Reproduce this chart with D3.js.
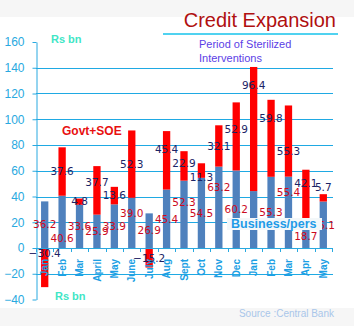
<!DOCTYPE html>
<html>
<head>
<meta charset="utf-8">
<script src="https://cdn.jsdelivr.net/npm/d3@7"></script>
<style>
  body { margin: 0; background: #fff; }
  svg { display: block; }
</style>
</head>
<body>
<div id="chart"></div>
<script>
// monthly credit expansion, Rs bn
const months = ["Jan", "Feb", "Mar", "April", "May", "June", "July", "Aug", "Sept", "Oct", "Nov", "Dec", "Jan", "Feb", "Mar", "Apr", "May"];
const business = [36.2, 40.6, 33.6, 25.9, 33.9, 39.0, 26.9, 45.4, 52.3, 54.5, 63.2, 60.2, 44.2, 55.3, 55.4, 18.7, 36.1];
const govt = [-30.4, 37.6, 4.8, 37.7, 13.6, 52.3, -15.2, 45.4, 22.9, 11.3, 32.1, 52.9, 96.4, 59.8, 55.3, 42.1, 5.7];
const yTicks = [-40, -20, 0, 20, 40, 60, 80, 100, 120, 140, 160];

// label nudges (px) - labels were hand placed in the original
const govtNudge = [-14, 0, 0, -8, 0, 0, 0, -11, -3, 7, 0, -7, -44, -20, 10, -14, -11];
const bizNudge = [0, 16, 0, 0, 0, -10, 0, 0, -12, 0, -20, 0, 6, 0, -20, 0, 0];

const W = 354, H = 326;
const plotLeft = 36, plotRight = 332, plotTop = 42, plotBottom = 299.5;
const axisBlue = "#29a9e0";
const gridBlue = "#1fa9e3";

const svg = d3.select("#chart").append("svg")
  .attr("width", W)
  .attr("height", H);

// grey bands top and bottom
svg.append("rect").attr("x", 0).attr("y", 0).attr("width", W).attr("height", 17).attr("fill", "#f6f6f6");
svg.append("rect").attr("x", 0).attr("y", 308).attr("width", W).attr("height", H - 308).attr("fill", "#f6f6f6");

const x = d3.scaleBand()
  .domain(d3.range(months.length))
  .range([plotLeft, plotRight])
  .padding(0);

const y = d3.scaleLinear()
  .domain([-40, 160])
  .range([plotBottom, plotTop]);

const barW = x.bandwidth() * 0.42;

// gridlines (not at 0, -40, 160)
svg.append("g")
  .selectAll("line")
  .data(yTicks.filter(t => t !== 0 && t !== -40 && t !== 160))
  .enter()
  .append("line")
  .attr("x1", plotLeft)
  .attr("x2", plotRight + 1)
  .attr("y1", d => Math.round(y(d)) + 0.5)
  .attr("y2", d => Math.round(y(d)) + 0.5)
  .attr("stroke", gridBlue)
  .attr("stroke-width", 1);

// y axis
const yAxis = svg.append("g")
  .attr("transform", `translate(${plotLeft + 0.5},0)`)
  .call(d3.axisLeft(y).tickValues(yTicks).tickSize(4).tickPadding(8).tickSizeOuter(0));
yAxis.select(".domain").attr("stroke", axisBlue);
yAxis.selectAll(".tick line").attr("stroke", axisBlue);
yAxis.selectAll("text")
  .attr("fill", axisBlue)
  .style("font-family", "'Liberation Sans', Arial, sans-serif")
  .style("font-size", "12px");

// bars
const rows = months.map((m, i) => ({ i, m, biz: business[i], gov: govt[i] }));

const bars = svg.append("g");
bars.selectAll(".biz")
  .data(rows)
  .enter()
  .append("rect")
  .attr("class", "biz")
  .attr("x", d => x(d.i) + (x.bandwidth() - barW) / 2)
  .attr("width", barW)
  .attr("y", d => y(d.biz))
  .attr("height", d => y(0) - y(d.biz))
  .attr("fill", "#4f81bd");

bars.selectAll(".gov")
  .data(rows)
  .enter()
  .append("rect")
  .attr("class", "gov")
  .attr("x", d => x(d.i) + (x.bandwidth() - barW) / 2)
  .attr("width", barW)
  .attr("y", d => d.gov >= 0 ? y(d.biz + d.gov) : y(0))
  .attr("height", d => Math.abs(y(0) - y(d.gov)))
  .attr("fill", "#ff0000");

// x axis line and ticks
const xAxis = svg.append("g");
xAxis.append("line")
  .attr("x1", plotLeft).attr("x2", plotRight + 1)
  .attr("y1", Math.round(y(0)) + 0.5).attr("y2", Math.round(y(0)) + 0.5)
  .attr("stroke", axisBlue);
xAxis.selectAll(".xt")
  .data(d3.range(months.length + 1))
  .enter()
  .append("line")
  .attr("x1", d => Math.round(plotLeft + d * x.step()) + 0.5)
  .attr("x2", d => Math.round(plotLeft + d * x.step()) + 0.5)
  .attr("y1", Math.round(y(0)))
  .attr("y2", Math.round(y(0)) + 4)
  .attr("stroke", axisBlue);

xAxis.selectAll(".xl")
  .data(rows)
  .enter()
  .append("text")
  .attr("transform", d => `translate(${x(d.i) + x.bandwidth() / 2},${y(0) + 11}) rotate(-90)`)
  .attr("text-anchor", "end")
  .attr("dy", "0.36em")
  .attr("fill", "#1c9fe4")
  .style("font-family", "'Liberation Sans', Arial, sans-serif")
  .style("font-weight", "bold")
  .style("font-size", "10px")
  .text(d => d.m);

// data labels
const fmt = d3.format(".1f");
const labelFont = "'DejaVu Sans', Verdana, sans-serif";

svg.append("g").selectAll("text")
  .data(rows)
  .enter()
  .append("text")
  .attr("x", d => x(d.i) + x.bandwidth() / 2)
  .attr("y", d => y(d.biz / 2) + bizNudge[d.i])
  .attr("dy", "0.36em")
  .attr("text-anchor", "middle")
  .attr("fill", "#cc0a1e")
  .style("font-family", labelFont)
  .style("font-size", "10.5px")
  .text(d => fmt(d.biz));

svg.append("g").selectAll("text")
  .data(rows)
  .enter()
  .append("text")
  .attr("x", d => x(d.i) + x.bandwidth() / 2)
  .attr("y", d => (d.gov >= 0 ? y(d.biz + d.gov / 2) : y(d.gov / 2)) + govtNudge[d.i])
  .attr("dy", "0.36em")
  .attr("text-anchor", "middle")
  .attr("fill", "#1b2466")
  .style("font-family", labelFont)
  .style("font-size", "10.5px")
  .text(d => fmt(d.gov));

// title
svg.append("text")
  .attr("x", 336)
  .attr("y", 27)
  .attr("text-anchor", "end")
  .attr("fill", "#b01010")
  .style("font-family", "'Liberation Sans', Arial, sans-serif")
  .style("font-size", "20px")
  .text("Credit Expansion");

svg.append("line")
  .attr("x1", 163).attr("x2", 338)
  .attr("y1", 34).attr("y2", 34)
  .attr("stroke", "#50d2f0")
  .attr("stroke-width", 2);

// annotations
const note = svg.append("text")
  .attr("fill", "#5b3ee6")
  .style("font-family", "'Liberation Sans', Arial, sans-serif")
  .style("font-size", "11px");
note.append("tspan").attr("x", 199).attr("y", 47.5).text("Period of Sterilized");
note.append("tspan").attr("x", 199).attr("y", 61.5).text("Interventions");

svg.append("text")
  .attr("x", 51).attr("y", 43)
  .attr("fill", "#3fe6c6")
  .style("font-family", "'Liberation Sans', Arial, sans-serif")
  .style("font-weight", "bold")
  .style("font-size", "11px")
  .text("Rs bn");

svg.append("text")
  .attr("x", 55).attr("y", 300)
  .attr("fill", "#3fe6c6")
  .style("font-family", "'Liberation Sans', Arial, sans-serif")
  .style("font-weight", "bold")
  .style("font-size", "11px")
  .text("Rs bn");

svg.append("text")
  .attr("x", 62).attr("y", 135)
  .attr("fill", "#e81010")
  .style("font-family", "'Liberation Sans', Arial, sans-serif")
  .style("font-weight", "bold")
  .style("font-size", "12px")
  .text("Govt+SOE");

// Business/pers legend box
svg.append("rect")
  .attr("x", 227).attr("y", 218)
  .attr("width", 95).attr("height", 12)
  .attr("fill", "#f3f7f9");
svg.append("text")
  .attr("x", 231).attr("y", 228)
  .attr("fill", "#1e9be8")
  .style("font-family", "'Liberation Sans', Arial, sans-serif")
  .style("font-weight", "bold")
  .style("font-size", "12.5px")
  .text("Business/pers");

svg.append("text")
  .attr("x", 334).attr("y", 317)
  .attr("text-anchor", "end")
  .attr("fill", "#a9c6ea")
  .style("font-family", "'Liberation Sans', Arial, sans-serif")
  .style("font-size", "10px")
  .text("Source :Central Bank");
</script>
</body>
</html>
